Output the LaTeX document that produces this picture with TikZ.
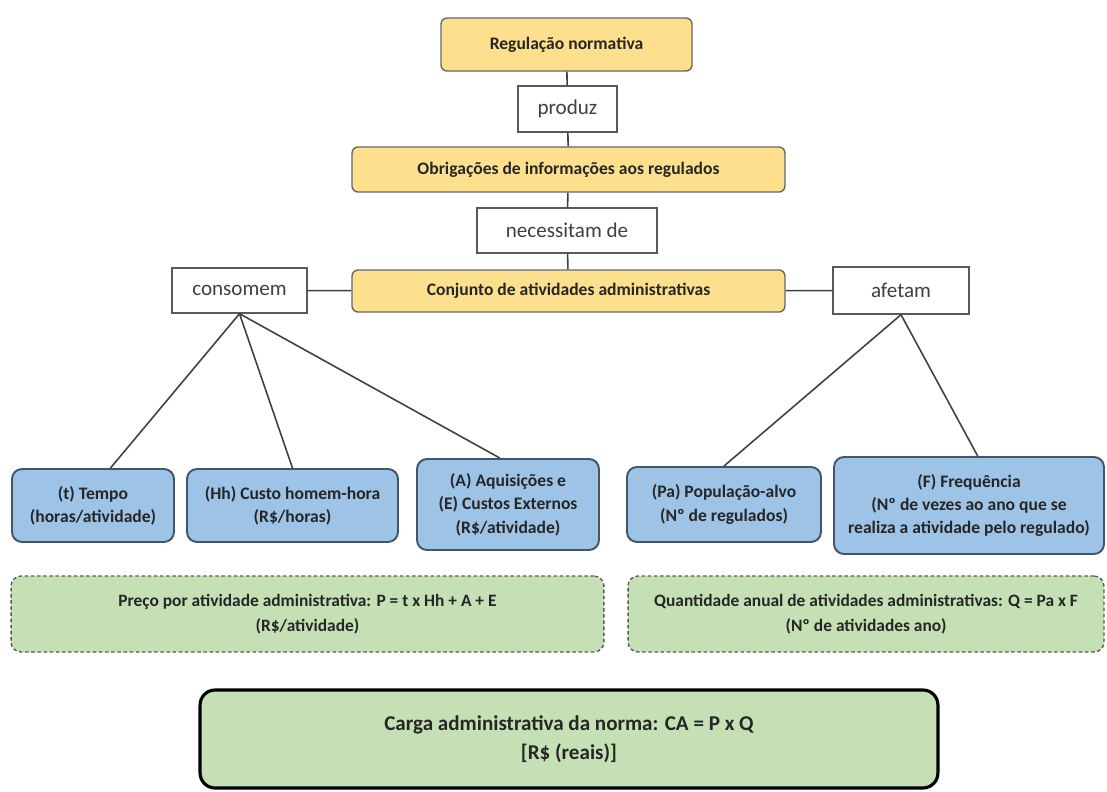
\documentclass[tikz,border=0pt]{standalone}
\usepackage{fontspec}
\setmainfont{Carlito}
\usepackage{xcolor}
\usepackage{tikz}
\definecolor{corAmarelo}{HTML}{FCE08E}
\definecolor{corAzul}{HTML}{9DC3E6}
\definecolor{corAzulBorda}{HTML}{44546A}
\definecolor{corVerde}{HTML}{C5E0B4}

\begin{document}
\begin{tikzpicture}[x=0.02cm,y=-0.02cm,
	amarela/.style={draw=black!60,line width=0.8pt,fill=corAmarelo,rounded corners=0.12cm,
		inner sep=0pt,text=black!85,font=\fontsize{10}{12}\selectfont\bfseries},
	verbo/.style={draw=black!65,line width=0.8pt,fill=white,inner sep=0pt,
		text=black!75,font=\fontsize{12}{14}\selectfont},
	azul/.style={draw=corAzulBorda,line width=1.1pt,fill=corAzul,rounded corners=0.2cm,
		inner sep=0pt,align=center,text=black!85,font=\fontsize{10}{13.3}\selectfont\bfseries},
	verde/.style={draw=black!65,dashed,dash pattern=on 2pt off 1.5pt,line width=0.8pt,
		fill=corVerde,rounded corners=0.2cm,inner sep=0pt,align=center,text=black!85,
		font=\fontsize{9.9}{14}\selectfont\bfseries},
	total/.style={draw=black,line width=1.8pt,fill=corVerde,rounded corners=0.3cm,
		inner sep=0pt,align=center,text=black!85,font=\fontsize{12}{16.5}\selectfont\bfseries},
	liga/.style={draw=black!75,line width=0.9pt}]
		\useasboundingbox (0,0) rectangle (1107,792);
		\node[amarela,minimum width=5.02cm,minimum height=1.06cm] (R0) at (566.5,44.5) {Regulação normativa};
		\node[verbo,minimum width=1.98cm,minimum height=0.92cm] (V0) at (567.5,109) {produz};
		\node[amarela,minimum width=8.66cm,minimum height=0.90cm] (R1) at (568.5,169.5) {Obrigações de informações aos regulados};
		\node[verbo,minimum width=3.60cm,minimum height=0.90cm] (V1) at (567,230.5) {necessitam de};
		\node[amarela,minimum width=8.66cm,minimum height=0.84cm] (R2) at (568.5,291) {Conjunto de atividades administrativas};
		\node[verbo,minimum width=2.70cm,minimum height=0.90cm] (V2) at (239.5,290.5) {consomem};
		\node[verbo,minimum width=2.72cm,minimum height=0.94cm] (V3) at (901,290.5) {afetam};
		\draw[liga] (R0) to (V0);
		\draw[liga] (V0) to (R1);
		\draw[liga] (R1) to (V1);
		\draw[liga] (V1) to (R2);
		\draw[liga] (V2) to (R2);
		\draw[liga] (R2) to (V3);
		% lado esquerdo
		\node[azul,minimum width=3.24cm,minimum height=1.46cm] (B0) at (93,505.5) {(t) Tempo\\(horas/atividade)};
		\node[azul,minimum width=4.22cm,minimum height=1.46cm] (B1) at (292.5,505.5) {(Hh) Custo homem-hora\\(R\$/horas)};
		\node[azul,minimum width=3.64cm,minimum height=1.82cm] (B2) at (508,504.5) {(A) Aquisições e\\(E) Custos Externos\\(R\$/atividade)};
		\draw[liga] (V2.south) to (B0.65);
		\draw[liga] (V2.south) to (B1.north);
		\draw[liga] (V2.south) to (B2.100);
		% lado direito
		\node[azul,minimum width=3.88cm,minimum height=1.50cm] (B3) at (724,504.5) {(Pa) População-alvo\\(Nº de regulados)};
		\node[azul,minimum width=5.40cm,minimum height=1.94cm] (B4) at (969,505.5) {(F) Frequência\\(Nº de vezes ao ano que se\\realiza a atividade pelo regulado)};
		\draw[liga] (V3.south) to (B3.north);
		\draw[liga] (V3.south) to (B4.80);
		\node[verde,minimum width=11.86cm,minimum height=1.52cm] (G0) at (307.5,614) {Preço por atividade administrativa: P = t x Hh + A + E\\(R\$/atividade)};
		\node[verde,minimum width=9.52cm,minimum height=1.52cm] (G1) at (866,614) {Quantidade anual de atividades administrativas: Q = Pa x F\\(Nº de atividades ano)};
		\node[total,minimum width=14.76cm,minimum height=1.96cm] (C0) at (569,739) {Carga administrativa da norma: CA = P x Q\\{[R\$ (reais)]}};
\end{tikzpicture}
\end{document}
